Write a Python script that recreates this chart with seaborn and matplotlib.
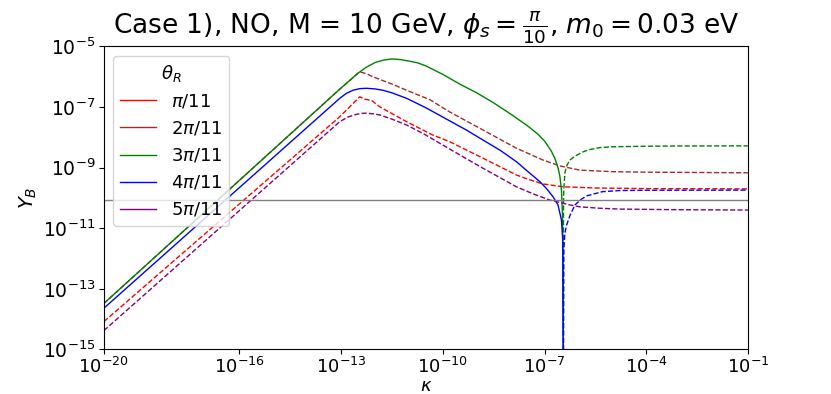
import matplotlib
matplotlib.use("Agg")
import matplotlib.pyplot as plt
import seaborn as sns
from matplotlib.lines import Line2D
from matplotlib.ticker import FixedLocator, NullLocator, LogFormatterMathtext

# ---- data (kappa, |Y_B|); solid = positive, dashed = negative ----
theta_labels = [r"$\pi/11$", r"$2\pi/11$", r"$3\pi/11$", r"$4\pi/11$", r"$5\pi/11$"]
line_colors = ["red", "brown", "green", "blue", "purple"]

red_neg_k = [1e-20, 9.1e-14, 3.55e-13, 5.0e-13, 7.9e-13, 1.38e-12, 8.5e-12, 5.0e-11, 1.6e-10,
             1.55e-9, 1.48e-8, 3.16e-8, 9.1e-8, 3.6e-7, 3.16e-6, 1e-4, 1e-1]
red_neg_y = [8.3e-15, 4.8e-8, 2.19e-7, 1.82e-7, 1.66e-7, 1.02e-7, 3.3e-8, 1.2e-8, 7.2e-9,
             2.04e-9, 5.75e-10, 4.2e-10, 2.9e-10, 2.34e-10, 2.14e-10, 2.04e-10, 2.0e-10]

brown_neg_k = [1e-20, 1e-13, 3.16e-13, 3.55e-13, 5.6e-13, 8.7e-13, 3.16e-12, 8.5e-12, 4.2e-11,
               1.6e-10, 1.55e-9, 1.48e-8, 9.1e-8, 2.8e-7, 1.1e-6, 1e-5, 1e-4, 1e-1]
brown_neg_y = [3.3e-14, 4.3e-7, 1.32e-6, 1.45e-6, 1.26e-6, 1.0e-6, 5.75e-7, 3.6e-7, 1.74e-7,
               6.9e-8, 1.74e-8, 4.4e-9, 1.78e-9, 1.15e-9, 8.3e-10, 7.4e-10, 7.1e-10, 6.8e-10]

green_pos_k = [1e-20, 1e-13, 3.16e-13, 5.6e-13, 1e-12, 1.78e-12, 3.16e-12, 5.6e-12, 1e-11,
               1.78e-11, 3.16e-11, 5.6e-11, 1e-10, 3.16e-10, 1e-9, 3.16e-9, 1e-8, 3.16e-8,
               6.3e-8, 1e-7, 1.58e-7, 2.0e-7, 2.51e-7, 2.82e-7, 3.16e-7, 3.39e-7, 3.6e-7]
green_pos_y = [3.3e-14, 4.3e-7, 1.32e-6, 2.09e-6, 2.95e-6, 3.55e-6, 3.9e-6, 3.7e-6, 3.3e-6,
               2.9e-6, 2.29e-6, 1.66e-6, 1.2e-6, 5.75e-7, 2.95e-7, 1.38e-7, 5.9e-8, 2.4e-8,
               1.29e-8, 7.6e-9, 3.55e-9, 2.09e-9, 9.8e-10, 5.4e-10, 1.82e-10, 2.75e-11, 1e-16]
green_neg_k = [3.6e-7, 3.63e-7, 3.7e-7, 4.0e-7, 4.5e-7, 5.6e-7, 7.9e-7, 1.26e-6, 2.0e-6,
               4.3e-6, 1e-5, 1e-4, 1e-3, 1e-1]
green_neg_y = [1e-16, 6.6e-11, 1.8e-10, 6.8e-10, 1.15e-9, 1.78e-9, 2.4e-9, 3.2e-9, 3.9e-9,
               4.6e-9, 4.9e-9, 5.1e-9, 5.2e-9, 5.25e-9]

blue_pos_k = [1e-20, 9.1e-14, 1.41e-13, 2.24e-13, 3.55e-13, 5.6e-13, 1e-12, 1.7e-12, 3.16e-12,
              8.5e-12, 3.16e-11, 1.6e-10, 5.0e-10, 1.55e-9, 5.0e-9, 1.48e-8, 3.16e-8, 7.2e-8,
              1.12e-7, 1.78e-7, 2.5e-7, 3.16e-7, 3.47e-7, 3.6e-7]
blue_pos_y = [2.3e-14, 1.95e-7, 2.82e-7, 3.6e-7, 4.07e-7, 4.17e-7, 3.98e-7, 3.6e-7, 2.95e-7,
              1.95e-7, 9.5e-8, 3.5e-8, 1.74e-8, 8.1e-9, 3.7e-9, 1.58e-9, 7.6e-10, 3.5e-10,
              2.1e-10, 1.1e-10, 5.9e-11, 1.86e-11, 4e-12, 1e-16]
blue_neg_k = [3.6e-7, 3.7e-7, 4.0e-7, 4.47e-7, 5.6e-7, 7.9e-7, 1.2e-6, 1.74e-6, 5.2e-6,
              1.66e-5, 1e-4, 1e-1]
blue_neg_y = [1e-16, 2e-12, 7e-12, 1.26e-11, 2.6e-11, 5.9e-11, 9e-11, 1.17e-10, 1.62e-10,
              1.76e-10, 1.8e-10, 1.82e-10]

purple_neg_k = [1e-20, 9.1e-14, 1.58e-13, 2.8e-13, 4.0e-13, 5.6e-13, 8.9e-13, 1.38e-12,
                3.16e-12, 8.5e-12, 2.6e-11, 1.6e-10, 1.55e-9, 5.0e-9, 1.48e-8, 5.0e-8, 1.45e-7,
                5.6e-7, 1.1e-6, 4.0e-6, 1.66e-5, 1e-3, 1e-1]
purple_neg_y = [4.2e-15, 3.3e-8, 4.7e-8, 5.75e-8, 6.2e-8, 6.3e-8, 6.0e-8, 5.5e-8,
                4.0e-8, 2.57e-8, 1.35e-8, 4.1e-9, 9.5e-10, 4.6e-10, 2.34e-10, 1.32e-10, 8.5e-11,
                5.9e-11, 5.1e-11, 4.6e-11, 4.3e-11, 4.1e-11, 4.0e-11]

observed_YB = 8.7e-11
x_ticks = [1e-20, 1e-16, 1e-13, 1e-10, 1e-7, 1e-4, 1e-1]
y_ticks = [1e-15, 1e-13, 1e-11, 1e-9, 1e-7, 1e-5]

# ---- plotting ----
fig = plt.figure(figsize=(8.31, 3.94), dpi=100)
ax = fig.add_axes([0.125, 0.113, 0.775, 0.769])

segments = [
    (red_neg_k, red_neg_y, "red", "--"),
    (brown_neg_k, brown_neg_y, "brown", "--"),
    (green_pos_k, green_pos_y, "green", "-"),
    (green_neg_k, green_neg_y, "green", "--"),
    (blue_pos_k, blue_pos_y, "blue", "-"),
    (blue_neg_k, blue_neg_y, "blue", "--"),
    (purple_neg_k, purple_neg_y, "purple", "--"),
]
for kx, yy, c, ls in segments:
    sns.lineplot(x=kx, y=yy, ax=ax, color=c, linestyle=ls, linewidth=1.0,
                 sort=False, estimator=None)

ax.axhline(observed_YB, color="grey", linewidth=1.0)

ax.set_xscale("log")
ax.set_yscale("log")
ax.set_xlim(1e-20, 1e-1)
ax.set_ylim(1e-15, 1e-5)
ax.xaxis.set_major_locator(FixedLocator(x_ticks))
ax.yaxis.set_major_locator(FixedLocator(y_ticks))
ax.xaxis.set_major_formatter(LogFormatterMathtext())
ax.yaxis.set_major_formatter(LogFormatterMathtext())
ax.xaxis.set_minor_locator(NullLocator())
ax.yaxis.set_minor_locator(NullLocator())
ax.tick_params(axis="y", labelsize=13.5, pad=2.5)
ax.tick_params(axis="x", labelsize=13, pad=1.5)

ax.set_xlabel(r"$\kappa$", fontsize=13, labelpad=0)
ax.set_ylabel(r"$Y_B$", fontsize=14, labelpad=3)
ax.set_title(r"Case 1), NO, M = 10 GeV, $\phi_s=\frac{\pi}{10}$, $m_0=0.03$ eV", fontsize=19)

handles = [Line2D([0], [0], color=c, linewidth=1.0) for c in line_colors]
ax.legend(handles, theta_labels, title=r"$\theta_R$", loc="upper left",
          fontsize=13, title_fontsize=13)

fig.savefig("out.png", dpi=100)
